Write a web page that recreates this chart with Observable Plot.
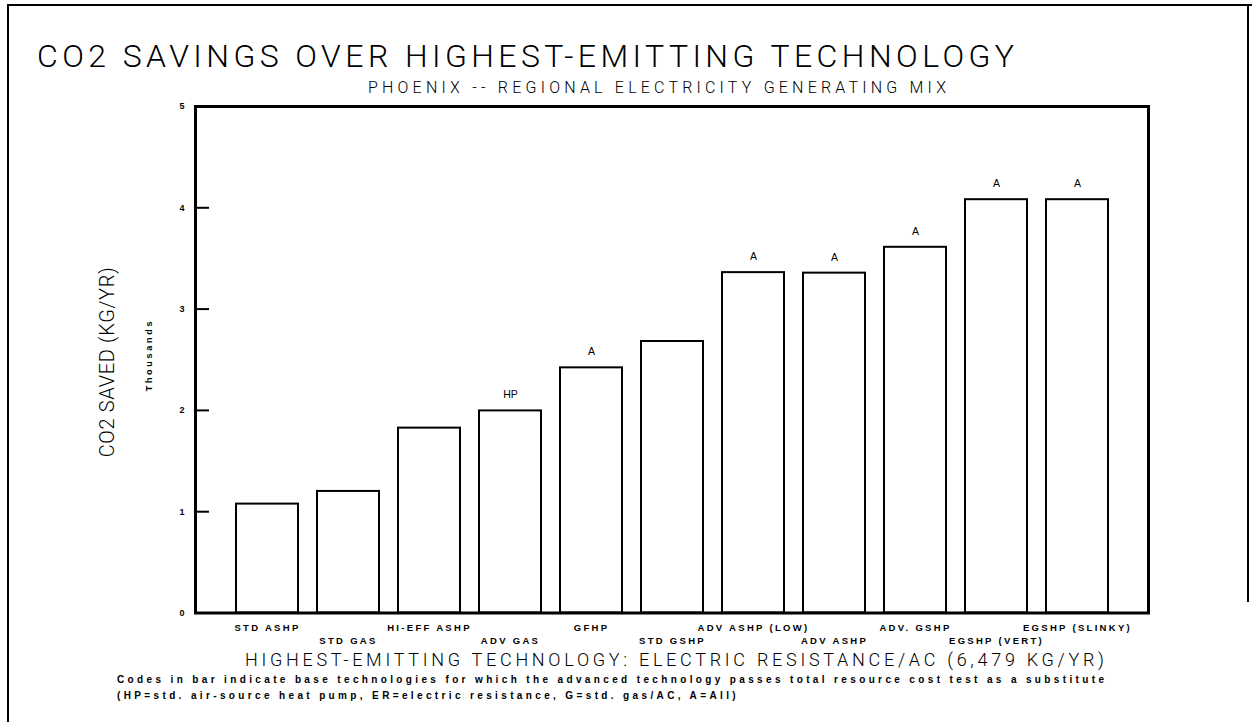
<!DOCTYPE html>
<html><head><meta charset="utf-8">
<script src="https://cdn.jsdelivr.net/npm/d3@7"></script>
<script src="https://cdn.jsdelivr.net/npm/@observablehq/plot@0.6"></script>
<style>
html,body{margin:0;padding:0;background:#fff;}
#page{position:relative;width:1252px;height:722px;overflow:hidden;background:#fff;}
#page svg{position:absolute;left:0;top:0;}
.t{position:absolute;white-space:nowrap;color:#000;line-height:1;}
.light{font-family:Roboto,"DejaVu Sans",sans-serif;font-weight:300;}
.bold{font-family:"Liberation Sans",Arial,sans-serif;font-weight:bold;}
.border{position:absolute;background:#000;}
#page svg g[aria-label="x-axis tick label"] text{letter-spacing:2.3px;}
</style></head><body><div id="page"></div>
<script>
// ---- data ----
const categories = ["STD ASHP","STD GAS","HI-EFF ASHP","ADV GAS","GFHP","STD GSHP","ADV ASHP (LOW)","ADV ASHP","ADV. GSHP","EGSHP (VERT)","EGSHP (SLINKY)"];
const values = [1.075, 1.20, 1.825, 1.995, 2.42, 2.68, 3.36, 3.355, 3.61, 4.08, 4.08]; // thousands kg/yr
const codes = ["", "", "", "HP", "A", "", "A", "A", "A", "A", "A"];
const yTicks = [0, 1, 2, 3, 4, 5];
const titleText = "CO2 SAVINGS OVER HIGHEST-EMITTING TECHNOLOGY";
const subtitleText = "PHOENIX -- REGIONAL ELECTRICITY GENERATING MIX";
const yTitleText = "CO2 SAVED (KG/YR)";
const yUnitText = "Thousands";
const xTitleText = "HIGHEST-EMITTING TECHNOLOGY: ELECTRIC RESISTANCE/AC (6,479 KG/YR)";
const noteLine1 = "Codes in bar indicate base technologies for which the advanced technology passes total resource cost test as a substitute";
const noteLine2 = "(HP=std. air-source heat pump, ER=electric resistance, G=std. gas/AC, A=All)";

const data = categories.map((c, i) => ({cat: c, value: values[i], code: codes[i]}));
const upperRow = categories.filter((_, i) => i % 2 === 0);
const lowerRow = categories.filter((_, i) => i % 2 === 1);

const page = document.getElementById("page");

const chart = Plot.plot({
  width: 1252, height: 722,
  marginTop: 106, marginBottom: 109.5, marginLeft: 195, marginRight: 104,
  x: {domain: categories, paddingInner: 0.24, paddingOuter: 0.47, label: null},
  y: {domain: [0, 5], label: null},
  style: {fontFamily: "'Liberation Sans', Arial, sans-serif", background: "transparent", color: "black"},
  marks: [
    Plot.barY(data, {x: "cat", y: "value", fill: "white", stroke: "black", strokeWidth: 2}),
    Plot.text(data.filter(d => d.code), {x: "cat", y: "value", text: "code", dy: -16, fontSize: 10.5, lineAnchor: "middle"}),
    Plot.axisY({ticks: yTicks, tickSize: -14, tickPadding: 25, strokeWidth: 2, fontSize: 9, fontWeight: "bold", tickFormat: d => String(d), label: null}),
    Plot.axisX({ticks: upperRow, tickSize: 0, tickPadding: 11, fontSize: 9.5, fontWeight: "bold", label: null}),
    Plot.axisX({ticks: lowerRow, tickSize: 0, tickPadding: 24, fontSize: 9.5, fontWeight: "bold", label: null}),
    Plot.frame({strokeWidth: 3, stroke: "black"})
  ]
});
page.appendChild(chart);

// page borders (scanned sheet edge)
function border(l, t, w, h) {
  const d = document.createElement("div");
  d.className = "border";
  Object.assign(d.style, {left: l + "px", top: t + "px", width: w + "px", height: h + "px"});
  page.appendChild(d);
}
border(7, 4, 2, 718);
border(7, 4, 1245, 2);
border(1247, 4, 2, 598);

// text helpers
function addText(txt, cls, size) {
  const el = document.createElement("div");
  el.className = "t " + cls;
  el.style.fontSize = size + "px";
  el.textContent = txt;
  page.appendChild(el);
  return el;
}
function fitSpacing(el, target) {
  el.style.letterSpacing = "0px";
  const w = el.getBoundingClientRect().width;
  const n = el.textContent.length;
  const ls = (target - w) / (n - 1);
  el.style.letterSpacing = ls + "px";
  return ls;
}
function placeLeft(el, x, yc) {
  el.style.left = x + "px";
  el.style.top = yc + "px";
  el.style.transform = "translateY(-50%)";
}
function placeRotated(el, xc, yc) {
  el.style.left = xc + "px";
  el.style.top = yc + "px";
  el.style.transform = "translate(-50%,-50%) rotate(-90deg)";
}

const title = addText(titleText, "light", 32); fitSpacing(title, 977); placeLeft(title, 37, 56);
const sub = addText(subtitleText, "light", 16); fitSpacing(sub, 578); placeLeft(sub, 368, 88);
const xt = addText(xTitleText, "light", 18); fitSpacing(xt, 859); placeLeft(xt, 245, 660);
const yt = addText(yTitleText, "light", 20); fitSpacing(yt, 190); placeRotated(yt, 107, 362);
const yu = addText(yUnitText, "bold", 9); fitSpacing(yu, 70); placeRotated(yu, 149, 355);
const n1 = addText(noteLine1, "bold", 10); const ls1 = fitSpacing(n1, 987); placeLeft(n1, 117, 680);
const n2 = addText(noteLine2, "bold", 10); n2.style.letterSpacing = ls1 + "px"; placeLeft(n2, 117, 696);
</script>
</body></html>
